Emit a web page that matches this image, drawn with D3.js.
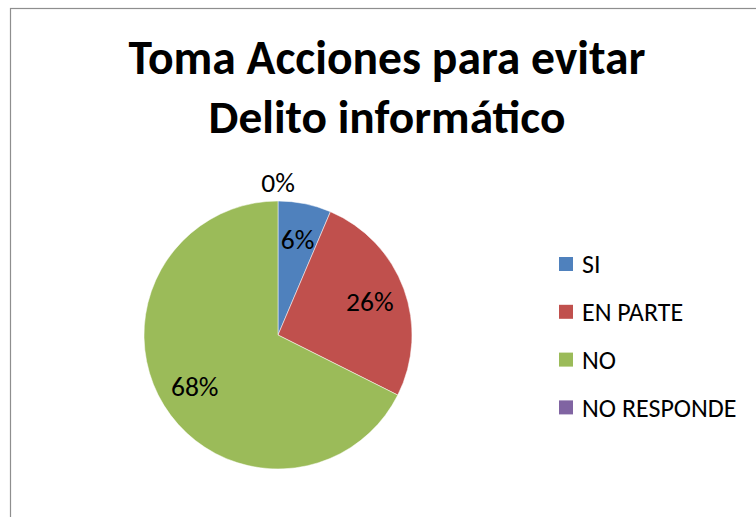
<!DOCTYPE html>
<html>
<head>
<meta charset="utf-8">
<script src="https://cdn.jsdelivr.net/npm/d3@7"></script>
<style>
  body { margin: 0; background: #fff; }
  svg text { font-family: Calibri, Carlito, Lato, "Open Sans", sans-serif; fill: #000; }
</style>
</head>
<body>
<div id="chart"></div>
<script>
// data
const categories = ["SI", "EN PARTE", "NO", "NO RESPONDE"];
const shares = [6.4, 26.0, 67.6, 0];
const colors = ["#4F81BD", "#C0504D", "#9BBB59", "#8064A2"];
const titleLines = ["Toma Acciones para evitar", "Delito informático"];

const width = 756, height = 517;
const cx = 278, cy = 335, radius = 134;

const svg = d3.select("#chart").append("svg")
  .attr("width", width)
  .attr("height", height);

// chart frame (runs off the right and bottom edge)
svg.append("rect")
  .attr("x", 10.5).attr("y", 8.5)
  .attr("width", 800).attr("height", 600)
  .attr("fill", "#fff")
  .attr("stroke", "#8e8e8e")
  .attr("stroke-width", 1.2);

// title
const title = svg.append("g").attr("class", "title");
const titleWidths = [517, 357];
titleLines.forEach((t, i) => {
  const txt = title.append("text")
    .attr("x", 387)
    .attr("y", 74 + i * 59)
    .attr("text-anchor", "middle")
    .style("font-weight", "bold")
    .style("font-size", "44px")
    .text(t);
  // fit to the width seen in the reference
  const w = txt.node().getComputedTextLength();
  txt.style("font-size", (44 * titleWidths[i] / w).toFixed(2) + "px");
});

const data = categories.map((c, i) => ({ name: c, value: shares[i], color: colors[i] }));

const pie = d3.pie().sort(null).value(d => d.value);
const arc = d3.arc().innerRadius(0).outerRadius(radius);
const labelArc = d3.arc().innerRadius(radius * 0.73).outerRadius(radius * 0.73);
const outerArc = d3.arc().innerRadius(radius * 1.14).outerRadius(radius * 1.14);

const g = svg.append("g").attr("transform", `translate(${cx},${cy})`);
const arcs = pie(data);

g.selectAll("path")
  .data(arcs)
  .join("path")
  .attr("d", arc)
  .attr("fill", d => d.data.color)
  .attr("stroke", d => d.data.value > 0 ? "#fff" : "none")
  .attr("stroke-width", 0.5);

g.selectAll("text.lbl")
  .data(arcs)
  .join("text")
  .attr("class", "lbl")
  .attr("transform", d => `translate(${(d.data.value > 0 ? labelArc : outerArc).centroid(d)})`)
  .attr("text-anchor", "middle")
  .attr("dy", "0.35em")
  .style("font-size", "27.5px")
  .text(d => Math.round(d.data.value) + "%");

// legend
const legend = svg.append("g").attr("transform", "translate(559,264)");
const rowGap = 47.8;
const item = legend.selectAll("g")
  .data(data)
  .join("g")
  .attr("transform", (d, i) => `translate(0,${i * rowGap})`);
item.append("rect")
  .attr("x", 0).attr("y", -7)
  .attr("width", 14).attr("height", 14)
  .attr("fill", d => d.color);
item.append("text")
  .attr("x", 23)
  .attr("y", 0)
  .attr("dy", "0.35em")
  .style("font-size", "26px")
  .text(d => d.name);
</script>
</body>
</html>
